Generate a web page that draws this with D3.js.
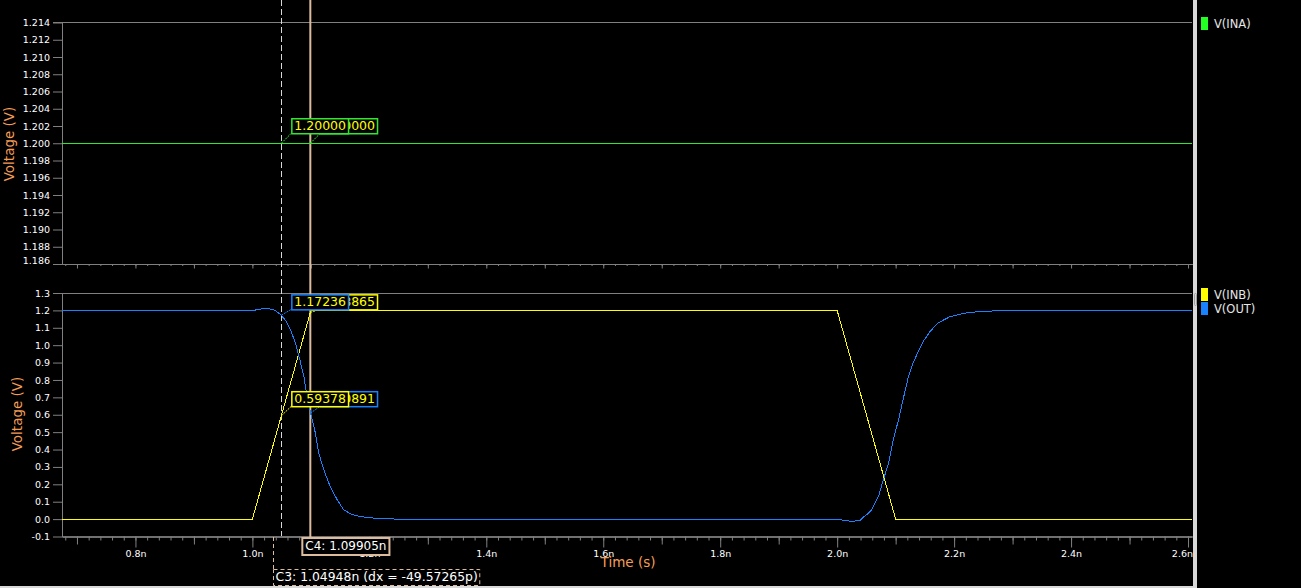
<!DOCTYPE html>
<html>
<head>
<meta charset="utf-8">
<script src="https://cdn.jsdelivr.net/npm/d3@7"></script>
<style>
body { margin: 0; background: #000; }
svg { display: block; }
</style>
</head>
<body>
<svg id="chart" width="1301" height="588"></svg>
<script>
// times are in ns, voltages in V
var inaTime = [0.6744, 2.6068];
var inaVolt = [1.2, 1.2];

var inbTime = [0.6744, 1.0, 1.1, 2.0, 2.1, 2.6068];
var inbVolt = [0, 0, 1.2, 1.2, 0, 0];

var outTime = [0.6744, 1.0, 1.005, 1.015, 1.025, 1.033, 1.04, 1.0495, 1.057, 1.065, 1.0735, 1.081, 1.088,
	1.0935, 1.1003, 1.1077, 1.1134, 1.122, 1.133, 1.145, 1.156, 1.168, 1.179, 1.195, 1.207, 1.23, 1.247,
	2.0, 2.005, 2.015, 2.025, 2.035, 2.04, 2.045, 2.052, 2.059, 2.0706, 2.079, 2.088, 2.096, 2.105, 2.114,
	2.122, 2.13, 2.139, 2.1475, 2.159, 2.173, 2.193, 2.216, 2.244, 2.279, 2.35, 2.6068];
var outVolt = [1.2, 1.2, 1.202, 1.208, 1.21, 1.207, 1.198, 1.172, 1.14, 1.09, 1.014, 0.918, 0.82,
	0.706, 0.60, 0.495, 0.38, 0.284, 0.188, 0.111, 0.054, 0.03, 0.019, 0.01, 0.006, 0.002, 0.0,
	0.0, -0.003, -0.01, -0.012, -0.01, -0.006, 0.012, 0.03, 0.054, 0.13, 0.226, 0.323, 0.457, 0.572, 0.706,
	0.821, 0.9, 0.965, 1.023, 1.08, 1.129, 1.164, 1.183, 1.194, 1.198, 1.2, 1.2];

var topTickLabels = ["1.186", "1.188", "1.190", "1.192", "1.194", "1.196", "1.198", "1.200",
	"1.202", "1.204", "1.206", "1.208", "1.210", "1.212", "1.214"];
var bottomTickLabels = ["-0.1", "0.0", "0.1", "0.2", "0.3", "0.4", "0.5", "0.6", "0.7",
	"0.8", "0.9", "1.0", "1.1", "1.2", "1.3"];
var timeTickLabels = ["0.8n", "1.0n", "1.2n", "1.4n", "1.6n", "1.8n", "2.0n", "2.2n", "2.4n", "2.6n"];
var timeMidTicks = [0.7, 0.9, 1.1, 1.3, 1.5, 1.7, 1.9, 2.1, 2.3, 2.5];

// cursors: C3 (reference, dashed) and C4
var cursorTimes = [1.04948, 1.09905];
var cursorText = ["C3: 1.04948n (dx = -49.57265p)", "C4: 1.09905n"];
var markerINA = ["1.20000", "1.20000"];
var markerINB = ["0.59378", "1.18865"];
var markerOUT = ["1.17236", "0.60891"];

var GREEN = "#2ee82e", YELLOW = "#ffff00", BLUE = "#1a82ff";
var GRAY = "#808080", TAN = "#dcbc9c", ORANGE = "#f59d56";

var svg = d3.select("#chart");

var x = d3.scaleLinear().domain([0.6744, 2.6068]).range([62, 1192]);
var yTop = d3.scaleLinear().domain([1.186, 1.214]).range([264, 22.5]);
var yBot = d3.scaleLinear().domain([-0.1, 1.3]).range([536.5, 293]);

var minorTicks = d3.range(34, 131).map(function(k){ return k / 50; });
var majorTicks = timeTickLabels.map(function(s){ return parseFloat(s); });

svg.append("defs").append("clipPath").attr("id", "plotclip")
	.append("rect").attr("x", 62).attr("y", 0).attr("width", 1130).attr("height", 588);

function styleAxis(g) {
	g.selectAll("path, line").attr("stroke", GRAY);
	g.selectAll("text").attr("fill", "#fff").attr("font-family", "DejaVu Sans").attr("font-size", "9.5px");
}

function xAxes(yPos, sizes, labels) {
	var a1 = svg.append("g").attr("transform", "translate(0," + yPos + ")")
		.call(d3.axisBottom(x).tickValues(minorTicks).tickSize(sizes[0]).tickSizeOuter(0).tickFormat(""));
	var a2 = svg.append("g").attr("transform", "translate(0," + yPos + ")")
		.call(d3.axisBottom(x).tickValues(timeMidTicks).tickSize(sizes[1]).tickSizeOuter(0).tickFormat(""));
	var a3 = svg.append("g").attr("transform", "translate(0," + yPos + ")")
		.call(d3.axisBottom(x).tickValues(majorTicks).tickSize(sizes[2]).tickSizeOuter(0)
			.tickFormat(function(d, i){ return labels ? timeTickLabels[i] : ""; }));
	[a1, a2, a3].forEach(styleAxis);
	// last label is kept inside the plot edge
	a3.selectAll(".tick").filter(function(d, i){ return i === majorTicks.length - 1; })
		.select("text").attr("text-anchor", "end").attr("x", 1192.5 - x(majorTicks[majorTicks.length - 1]));
}

function yAxis(scale, labels) {
	var vals = labels.map(Number);
	var g = svg.append("g").attr("transform", "translate(62,0)")
		.call(d3.axisLeft(scale).tickValues(vals).tickSize(9).tickSizeOuter(0)
			.tickFormat(function(d, i){ return labels[i]; }));
	styleAxis(g);
	return g;
}

// top panel
var gTopY = yAxis(yTop, topTickLabels);
// lowest label sits a little above the axis line
gTopY.selectAll(".tick").filter(function(d, i){ return i === 0; }).select("text").attr("y", -3.5);
xAxes(264, [2, 4.5, 4.5], false);
svg.append("line").attr("x1", 53).attr("x2", 1192).attr("y1", yTop(1.214)).attr("y2", yTop(1.214))
	.attr("stroke", GRAY);

// bottom panel
var gBotY = yAxis(yBot, bottomTickLabels);
xAxes(536.5, [4, 8, 11], true);
svg.append("line").attr("x1", 53).attr("x2", 1192).attr("y1", yBot(1.3) + 0.5).attr("y2", yBot(1.3) + 0.5)
	.attr("stroke", GRAY);

// axis titles
function yTitle(g, cy) {
	var left = g.node().getBBox().x + 62;
	svg.append("text").attr("transform", "translate(" + (left - 14) + "," + cy + ") rotate(-90)")
		.attr("text-anchor", "middle").attr("dy", "0.35em")
		.attr("fill", ORANGE).attr("font-family", "DejaVu Sans").attr("font-size", "13.5px")
		.text("Voltage (V)");
}
yTitle(gTopY, 144);
yTitle(gBotY, 414);
svg.append("text").attr("x", 628).attr("y", 567).attr("text-anchor", "middle")
	.attr("fill", ORANGE).attr("font-family", "DejaVu Sans").attr("font-size", "13.5px").text("Time (s)");

// cursors
var c3x = x(cursorTimes[0]), c4x = x(cursorTimes[1]);
svg.append("line").attr("x1", Math.round(c3x) + 0.5).attr("x2", Math.round(c3x) + 0.5)
	.attr("y1", 0).attr("y2", 536).attr("stroke", "#d8d8d8").attr("stroke-dasharray", "6,3");
svg.append("line").attr("x1", c4x).attr("x2", c4x).attr("y1", 0).attr("y2", 538)
	.attr("stroke", TAN).attr("stroke-width", 2);

// traces
var line = function(scale) {
	return d3.line().x(function(d){ return x(d[0]); }).y(function(d){ return scale(d[1]); });
};
var traces = svg.append("g").attr("clip-path", "url(#plotclip)");
traces.append("path").datum(d3.zip(inaTime, inaVolt)).attr("d", line(yTop))
	.attr("fill", "none").attr("stroke", GREEN).attr("shape-rendering", "crispEdges");
traces.append("path").datum(d3.zip(inbTime, inbVolt)).attr("d", line(yBot))
	.attr("fill", "none").attr("stroke", YELLOW).attr("shape-rendering", "crispEdges");
traces.append("path").datum(d3.zip(outTime, outVolt)).attr("d", line(yBot))
	.attr("fill", "none").attr("stroke", BLUE).attr("shape-rendering", "crispEdges");

// marker value boxes
function markerBox(cx, value, scale, color, boxBottom) {
	var py = scale(+value), bx = cx + 10;
	svg.append("line").attr("x1", cx).attr("y1", py).attr("x2", bx).attr("y2", boxBottom)
		.attr("stroke", color).attr("stroke-dasharray", "2,1");
	var g = svg.append("g");
	var r = g.append("rect");
	var t = g.append("text").attr("x", bx + 3).attr("y", boxBottom - 3)
		.attr("fill", YELLOW).attr("font-family", "DejaVu Sans").attr("font-size", "12.5px").text(value);
	var w = t.node().getComputedTextLength();
	r.attr("x", bx + 0.5).attr("y", boxBottom - 15 + 0.5).attr("width", w + 5).attr("height", 15)
		.attr("fill", "#000").attr("stroke", color).attr("stroke-width", 1.5);
}
// C4 labels first, C3 labels drawn over them
var topBottom = yTop(+markerINA[1]) - 10;
markerBox(c4x, markerINA[1], yTop, GREEN, topBottom);
markerBox(c3x, markerINA[0], yTop, GREEN, topBottom);
var upBottom = yBot(+markerINB[1]) - 3;
markerBox(c4x, markerINB[1], yBot, YELLOW, upBottom);
markerBox(c3x, markerOUT[0], yBot, BLUE, upBottom);
var lowBottom = yBot(+markerOUT[1]) - 7;
markerBox(c4x, markerOUT[1], yBot, BLUE, lowBottom);
markerBox(c3x, markerINB[0], yBot, YELLOW, lowBottom);

// cursor time labels
var c4g = svg.append("g");
var c4r = c4g.append("rect");
var c4t = c4g.append("text").attr("x", c4x - 5).attr("y", 550)
	.attr("fill", "#fff").attr("font-family", "DejaVu Sans").attr("font-size", "12px").text(cursorText[1]);
c4r.attr("x", c4x - 8).attr("y", 538).attr("width", c4t.node().getComputedTextLength() + 6).attr("height", 17)
	.attr("fill", "#000").attr("stroke", TAN).attr("stroke-width", 2);

var c3left = Math.round(c3x) - 7.5;
svg.append("line").attr("x1", c3left).attr("x2", c3left).attr("y1", 537).attr("y2", 569)
	.attr("stroke", TAN).attr("stroke-dasharray", "4,3");
var c3g = svg.append("g");
var c3r = c3g.append("rect");
var c3t = c3g.append("text").attr("x", c3left + 2).attr("y", 581)
	.attr("fill", "#fff").attr("font-family", "DejaVu Sans").attr("font-size", "12.4px").text(cursorText[0]);
c3r.attr("x", c3left).attr("y", 569.5).attr("width", c3t.node().getComputedTextLength() + 4).attr("height", 16)
	.attr("fill", "#000").attr("stroke", TAN).attr("stroke-dasharray", "4,3");

// frame: splitter, bottom strip
svg.append("rect").attr("x", 1193).attr("y", 0).attr("width", 4).attr("height", 588).attr("fill", "#d9d9d9");
svg.append("rect").attr("x", 0).attr("y", 586).attr("width", 1197).attr("height", 2).attr("fill", "#d9d9d9");
svg.append("rect").attr("x", 1194.5).attr("y", 293.5).attr("width", 2).attr("height", 12)
	.attr("fill", "none").attr("stroke", "#a0a0a0").attr("rx", 1);

// legends
var legendNames = [["V(INA)"], ["V(INB)", "V(OUT)"]];
var legendColors = [["#22ff22"], [YELLOW, BLUE]];
var legendTop = [17, 288];
legendNames.forEach(function(names, p) {
	names.forEach(function(n, i) {
		var yy = legendTop[p] + i * 14;
		svg.append("rect").attr("x", 1201).attr("y", yy).attr("width", 7).attr("height", 13)
			.attr("fill", legendColors[p][i]);
		svg.append("text").attr("x", 1214).attr("y", yy + 10.5)
			.attr("fill", "#e6e6e6").attr("font-family", "DejaVu Sans").attr("font-size", "11.5px").text(n);
	});
});
</script>
</body>
</html>
